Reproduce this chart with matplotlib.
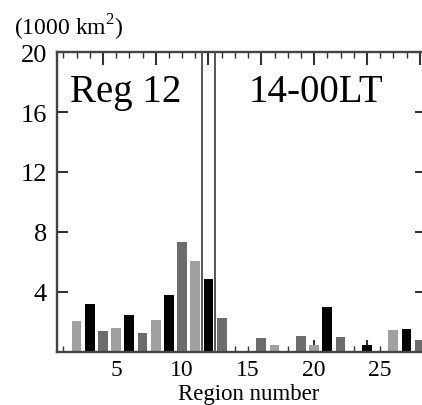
import matplotlib
matplotlib.use("Agg")
import matplotlib.pyplot as plt
from matplotlib.ticker import MultipleLocator, FixedLocator

plt.rcParams['font.family'] = ['Liberation Serif', 'DejaVu Serif']
plt.rcParams['mathtext.fontset'] = 'custom'
plt.rcParams['mathtext.rm'] = 'Liberation Serif'

regions = list(range(1, 29))
values = [0.0, 2.05, 3.22, 1.37, 1.63, 2.48, 1.29, 2.13, 3.78, 7.35,
          6.06, 4.9, 2.25, 0.0, 0.0, 0.91, 0.47, 0.0, 1.08, 0.47,
          2.98, 1.02, 0.0, 0.49, 0.0, 1.47, 1.53, 0.8]
color_cycle = ['#6c6c6c', '#a0a0a0', '#000000']  # region 1 dark, 2 light, 3 black, ...
bar_colors = [color_cycle[(r - 1) % 3] for r in regions]
bracket_x = [11.5, 12.5]
x_labels = [5, 10, 15, 20, 25]
y_ticks = [4, 8, 12, 16, 20]

fig = plt.figure(figsize=(4.22, 4.06), dpi=100)
ax = fig.add_axes([56.7 / 422, 53 / 406, 369.6 / 422, 300 / 406])

bars = ax.bar(regions, values, width=0.75, color=bar_colors, edgecolor='none', zorder=2)
for xv in bracket_x:
    ax.axvline(xv, color='#555555', lw=1.4, zorder=3)

ax.set_xlim(0.5, 28.5)
ax.set_ylim(0, 20)

for s in ax.spines.values():
    s.set_color('#444444')
    s.set_linewidth(1.7)

ax.yaxis.set_major_locator(FixedLocator(y_ticks))
ax.tick_params(axis='y', which='major', direction='in', length=8, width=1.5,
               color='#333333', left=True, right=True, labelsize=19, pad=7)

ax.xaxis.set_major_locator(MultipleLocator(4))
ax.xaxis.set_minor_locator(MultipleLocator(1))
ax.tick_params(axis='x', which='major', direction='in', length=9, width=1.5,
               color='#333333', top=True, bottom=True, labelbottom=False)
ax.tick_params(axis='x', which='minor', direction='in', length=4.5, width=1.0,
               color='#333333', top=True, bottom=True)

sec = ax.secondary_xaxis('bottom')
sec.set_xticks(x_labels)
sec.tick_params(length=0, labelsize=17, pad=5)
sec.spines['bottom'].set_visible(False)

ax.set_xlabel('Region number', fontsize=16.5)
ax.xaxis.set_label_coords(0.52, -0.104)

ax.text(0.036, 0.867, 'Reg 12', transform=ax.transAxes, fontsize=28,
        ha='left', va='center')
ax.text(0.52, 0.867, '14-00LT', transform=ax.transAxes, fontsize=28,
        ha='left', va='center')
fig.text(0.033, 0.932, '(1000 km$^2$)', fontsize=17, ha='left', va='center')

fig.savefig('out.png', dpi=100)
